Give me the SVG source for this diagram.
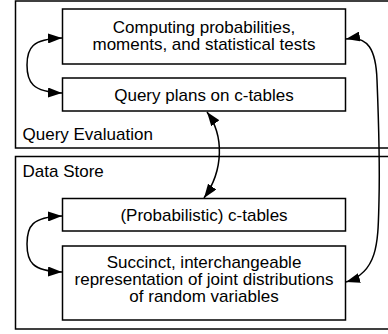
<svg xmlns="http://www.w3.org/2000/svg" width="388" height="334" viewBox="0 0 388 334">
<style>
.frame{fill:none;stroke:#000;stroke-width:1.5}
.box{fill:#fff;stroke:#000;stroke-width:1.5}
.t{font-family:"Liberation Sans",Arial,Helvetica,sans-serif;font-size:17px;fill:#000}
.c{text-anchor:middle}
.conn{fill:none;stroke:#000;stroke-width:1.5;marker-start:url(#ah);marker-end:url(#ah)}
</style>
<defs>
<marker id="ah" markerUnits="userSpaceOnUse" viewBox="0 0 14 10" refX="14" refY="5" markerWidth="14" markerHeight="10" orient="auto-start-reverse">
<path d="M0,0 L14,5 L0,10 Z" fill="#000"/>
</marker>
</defs>
<rect width="388" height="334" fill="#fff"/>
<g id="query-evaluation">
<rect class="frame" x="15.5" y="1" width="400" height="147"/>
<text class="t" x="22.5" y="140">Query Evaluation</text>
</g>
<g id="data-store">
<rect class="frame" x="15.5" y="156.5" width="400" height="172.5"/>
<text class="t" x="22.5" y="177">Data Store</text>
</g>
<g id="computing">
<rect class="box" x="62.5" y="9" width="283" height="55"/>
<text class="t c" x="204" y="33">Computing probabilities,</text>
<text class="t c" x="204" y="50">moments, and statistical tests</text>
</g>
<g id="query-plans">
<rect class="box" x="62.5" y="78" width="283" height="33"/>
<text class="t c" x="204" y="100.5">Query plans on c-tables</text>
</g>
<g id="c-tables">
<rect class="box" x="62.5" y="198.5" width="283" height="32.5"/>
<text class="t c" x="204" y="221">(Probabilistic) c-tables</text>
</g>
<g id="representation">
<rect class="box" x="62.5" y="246" width="283" height="74"/>
<text class="t c" x="204" y="268">Succinct, interchangeable</text>
<text class="t c" x="204" y="285">representation of joint distributions</text>
<text class="t c" x="204" y="302">of random variables</text>
</g>
<g id="connectors">
<path class="conn" d="M62,38 C32,39 27,48 27,65 C27,82 32,92 62,93"/>
<path class="conn" d="M62,216 C32,217 27,226 27,244 C27,262 32,271 62,272"/>
<path class="conn" d="M207,112 C224,135 224,170 204,198"/>
<path class="conn" d="M346,39 C368,35 376,50 377,80 C379,130 380,160 379,200 C378,240 379,272 346,282"/>
</g>
</svg>
